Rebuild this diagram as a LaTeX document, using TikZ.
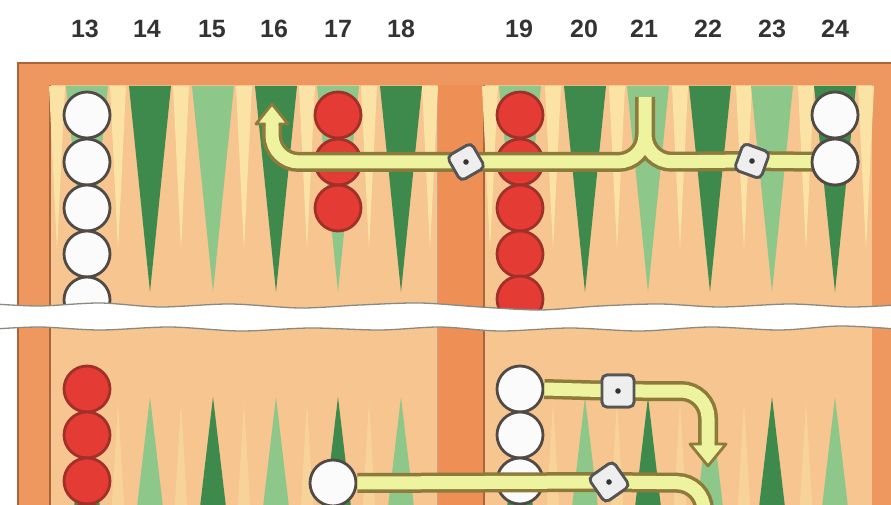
\documentclass[tikz,border=0pt]{standalone}
\usepackage{fontspec}
\setmainfont{Liberation Sans}
\definecolor{frameor}{HTML}{EE9860}
\definecolor{framedk}{HTML}{A8643A}
\definecolor{boardc}{HTML}{F6C590}
\definecolor{barc}{HTML}{EE8F55}
\definecolor{streak}{HTML}{FAE3A5}
\definecolor{dgreen}{HTML}{3E8A4C}
\definecolor{lgreen}{HTML}{8DC88A}
\definecolor{wchkf}{HTML}{FBFBFB}
\definecolor{chkedge}{HTML}{4F4A45}
\definecolor{rchkf}{HTML}{E53B35}
\definecolor{rchkedge}{HTML}{A0302A}
\definecolor{trailf}{HTML}{EEF3A0}
\definecolor{traile}{HTML}{8D7B3C}
\definecolor{dief}{HTML}{EEEEEE}
\definecolor{diee}{HTML}{555555}
\definecolor{diedot}{HTML}{333333}
\definecolor{numc}{HTML}{333333}
\definecolor{tearedge}{HTML}{8A8A80}
\begin{document}
\begin{tikzpicture}[x=1pt,y=-1pt,
  wchk/.style={circle,minimum size=46pt,inner sep=0pt,fill=wchkf,draw=chkedge,line width=2.8pt},
  rchk/.style={circle,minimum size=46pt,inner sep=0pt,fill=rchkf,draw=rchkedge,line width=2.8pt},
  die/.style={rectangle,rounded corners=5pt,minimum size=28pt,inner sep=0pt,fill=dief,draw=diee,line width=2.8pt,
    path picture={\fill[diedot] (path picture bounding box.center) circle (2.8pt);}},
  trail/.style={draw=traile,line width=3.5pt,double=trailf,double distance=13pt,rounded corners=27pt},
  num/.style={font=\fontsize{25}{30}\selectfont\bfseries,text=numc,inner sep=0pt},
  headup/.pic={
    \fill[trailf] (-16,0) -- (16,0) -- (0,-20) -- cycle;
    \draw[traile,line width=2.8pt,line join=round] (-6.5,0) -- (-16,0) -- (0,-20) -- (16,0) -- (6.5,0);
  },
  headdown/.pic={
    \fill[trailf] (-18,0) -- (18,0) -- (0,22) -- cycle;
    \draw[traile,line width=2.8pt,line join=round] (-6.5,0) -- (-18,0) -- (0,22) -- (18,0) -- (6.5,0);
  }
]
\useasboundingbox (0,0) rectangle (891,505);
\clip (0,0) rectangle (891,505);
\fill[white] (0,0) rectangle (891,505);
% frame and board
\fill[frameor] (18,62) rectangle (900,520);
\draw[framedk,line width=1.5pt] (18,520) -- (18,63) -- (900,63);
\fill[boardc] (50,85) rectangle (437,520);
\fill[boardc] (484,85) rectangle (872,520);
\fill[barc] (437,85) rectangle (484,520);
\draw[framedk,line width=1.5pt] (50,85) -- (50,520) (484,85) -- (484,520);
\draw[framedk!60,line width=0.8pt] (437,85) -- (437,520);
% light streaks
\foreach \m in {57,118,181,244,307,369,430,490,553,617,680,744,806,866}
  \fill[streak] (\m-8,86) -- (\m+8,86) -- (\m,250) -- cycle;
\foreach \m in {118,181,244,307,369,553,617,680,744,806}
  \fill[streak,opacity=.45] (\m-7,520) -- (\m+7,520) -- (\m,400) -- cycle;
% points (top)
\foreach \cx/\c in {87/lgreen,150/dgreen,213/lgreen,276/dgreen,338/lgreen,401/dgreen,
                    520/lgreen,585/dgreen,648/lgreen,710/dgreen,772/lgreen,835/dgreen}
  \fill[\c] (\cx-21,86) -- (\cx+21,86) -- (\cx,292) -- cycle;
% points (bottom)
\foreach \cx/\c in {87/dgreen,150/lgreen,213/dgreen,276/lgreen,338/dgreen,401/lgreen,
                    520/dgreen,585/lgreen,648/dgreen,710/lgreen,772/dgreen,835/lgreen}
  \fill[\c] (\cx-21,575) -- (\cx+21,575) -- (\cx,397) -- cycle;
% checkers top
\foreach \y [count=\k] in {115,162,208,254,300} \node[wchk] (w13-\k) at (87,\y) {};
\foreach \y [count=\k] in {115,162,208} \node[rchk] (r17-\k) at (338,\y) {};
\foreach \y [count=\k] in {115,162,208,254,299} \node[rchk] (r19-\k) at (520,\y) {};
\foreach \y [count=\k] in {115,162} \node[wchk] (w24-\k) at (835,\y) {};
% checkers bottom
\foreach \y [count=\k] in {389,435,481,527} \node[rchk] (r12-\k) at (87,\y) {};
\foreach \y [count=\k] in {389,435,481} \node[wchk] (w6-\k) at (520,\y) {};
\node[wchk] (w8) at (333,483) {};
% dice
\node[die,rotate=30] (dbar) at (466,162) {};
\node[die,rotate=-20] (d22) at (752,161) {};
\node[die,minimum size=32pt] (d4) at (618,391) {};
\node[die,minimum size=30pt,rotate=35] (d4b) at (609,482) {};
% path corners
\coordinate (f21) at (645,97);
\coordinate (k21) at (645,162);
\coordinate (k16) at (272,162);
\coordinate (h16) at (272,124);
\coordinate (k3a) at (708,391);
\coordinate (h3a) at (708,444);
\coordinate (k3b) at (704,483);
\coordinate (e3b) at (704,560);
% trails
\draw[trail] (w24-2.center) -- (d22.center) -- (k21) -- (f21)
             (f21) -- (k21) -- (dbar.center) -- (k16) -- (h16);
\path (h16) pic {headup};
\draw[trail] (w6-1.east) -- (d4.center) -- (k3a) -- (h3a);
\path (h3a) pic {headdown};
\draw[trail] (w8.east) -- (d4b.center) -- (k3b) -- (e3b);
\node[wchk] at (w24-2) {};
% dice on top
\node[die,rotate=30] at (dbar) {};
\node[die,rotate=-20] at (d22) {};
\node[die,minimum size=32pt] at (d4) {};
\node[die,minimum size=30pt,rotate=35] at (d4b) {};
% tear
\fill[white] plot[smooth] coordinates {(-5,304) (40,306) (100,303) (160,307) (230,304) (300,308) (360,305) (420,303) (480,307) (540,310) (600,306) (660,304) (720,307) (790,304) (850,307) (896,305)}
  -- plot[smooth] coordinates {(896,329) (840,326) (780,330) (710,327) (640,331) (570,328) (500,331) (440,327) (380,330) (310,328) (240,331) (170,327) (100,330) (40,327) (-5,329)} -- cycle;
\draw[tearedge,line width=1.3pt] plot[smooth] coordinates {(-5,304) (40,306) (100,303) (160,307) (230,304) (300,308) (360,305) (420,303) (480,307) (540,310) (600,306) (660,304) (720,307) (790,304) (850,307) (896,305)};
\draw[tearedge,line width=1.3pt] plot[smooth] coordinates {(896,329) (840,326) (780,330) (710,327) (640,331) (570,328) (500,331) (440,327) (380,330) (310,328) (240,331) (170,327) (100,330) (40,327) (-5,329)};
% numbers
\foreach \t/\x in {13/85,14/147,15/212,16/274,17/338,18/401,19/519,20/584,21/644,22/708,23/772,24/835}
  \node[num] (n\t) at (\x,29) {\t};
\end{tikzpicture}
\end{document}
